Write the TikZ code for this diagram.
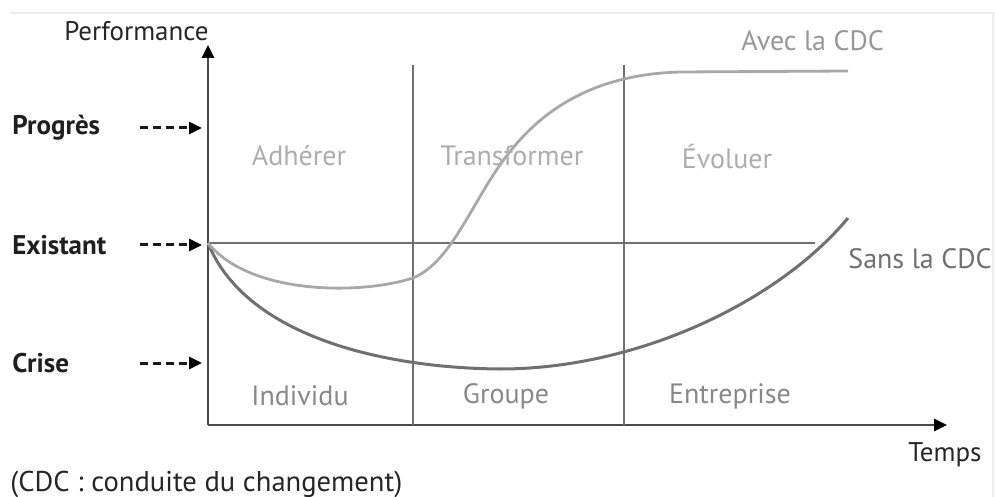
\documentclass[tikz,border=0pt]{standalone}
\usepackage{fontspec}
\setmainfont{PT Sans}
\usetikzlibrary{arrows.meta}
\definecolor{axisgray}{HTML}{4A4A4A}
\definecolor{gridgray}{HTML}{707070}
\definecolor{avecgray}{HTML}{A8A8A8}
\definecolor{sansgray}{HTML}{707070}
\definecolor{phasegray}{HTML}{ADADAD}
\definecolor{levelgray}{HTML}{888888}
\begin{document}
\begin{tikzpicture}[x=0.5pt,y=-0.5pt, every node/.style={font=\fontsize{13.5}{15}\selectfont, inner sep=0pt}]
        \tikzset{
            levellabel/.style={anchor=west, font=\fontsize{13.5}{15}\selectfont\bfseries, text=black!88},
            phaselabel/.style={text=phasegray, font=\fontsize{14}{15}\selectfont},
            scopelabel/.style={text=levelgray, font=\fontsize{14}{15}\selectfont},
            tip/.style={-{Triangle[length=6.5pt,width=6pt,black]}},
        }
        \useasboundingbox (0,0) rectangle (995,497);

        % Frame lines (light)
        \draw[black!7,line width=1pt] (10,13) -- (995,13);
        \draw[black!7,line width=1pt] (993,13) -- (993,497);

        % Axes
        \coordinate (O) at (208,425);
        \coordinate (ytop) at (208,45);
        \coordinate (xend) at (947,425);
        \draw[axisgray,line width=1.3pt,tip] (O) -- (ytop);
        \draw[axisgray,line width=1.3pt,tip] (O) -- (xend);
        \node[text=black!85,anchor=east] (perf) at (209,31) {Performance};
        \node[text=black!85] (temps) at (945,455) {Temps};

        % Phase separators
        \foreach \x/\name in {413/sepA,624/sepB}{
            \coordinate (\name top) at (\x,65);
            \coordinate (\name bot) at (\x,425);
            \draw[gridgray,line width=0.9pt] (\name top) -- (\name bot);
        }

        % Existant level line
        \coordinate (exstart) at (208,243);
        \coordinate (exend) at (815,243);
        \draw[gridgray,line width=0.9pt] (exstart) -- (exend);

        % Level labels with dashed arrows
        \foreach \y/\name/\txt in {128/prog/Progrès,245/exist/Existant,363/crise/Crise}{
            \node[levellabel] (\name) at (12,\y) {\txt};
            \coordinate (\name start) at (140,\y);
            \coordinate (\name end) at (202,\y);
            \draw[black!90,line width=1.5pt,dash pattern=on 4pt off 2.5pt,tip] (\name start) -- (\name end);
        }

        % Curve without change management
        \draw[sansgray,line width=1.5pt] (exstart)
            .. controls (245,335) and (380,368) .. (500,369)
            .. controls (640,369) and (780,300) .. (848,218);
        \node[text=sansgray,anchor=west,font=\fontsize{14}{15}\selectfont] (sans) at (848,259) {Sans la CDC};

        % Curve with change management
        \draw[avecgray,line width=1.4pt] (exstart)
            .. controls (250,295) and (360,295) .. (413,278)
            .. controls (445,265) and (465,220) .. (490,180)
            .. controls (520,132) and (570,75) .. (680,72) -- (848,71);
        \node[text=avecgray!90!black,anchor=west,font=\fontsize{14}{15}\selectfont] (avec) at (741,41) {Avec la CDC};

        % Phases
        \node[phaselabel] (adh) at (299,156) {Adhérer};
        \node[phaselabel] (trans) at (512,156) {Transformer};
        \node[phaselabel] (evol) at (727,156) {Évoluer};

        % Scopes
        \node[scopelabel] (ind) at (300,396) {Individu};
        \node[scopelabel] (grp) at (506,396) {Groupe};
        \node[scopelabel] (ent) at (730,396) {Entreprise};

        \node[text=black!85,anchor=west,font=\fontsize{14.3}{16}\selectfont] (note) at (10,484) {(CDC : conduite du changement)};
\end{tikzpicture}
\end{document}
